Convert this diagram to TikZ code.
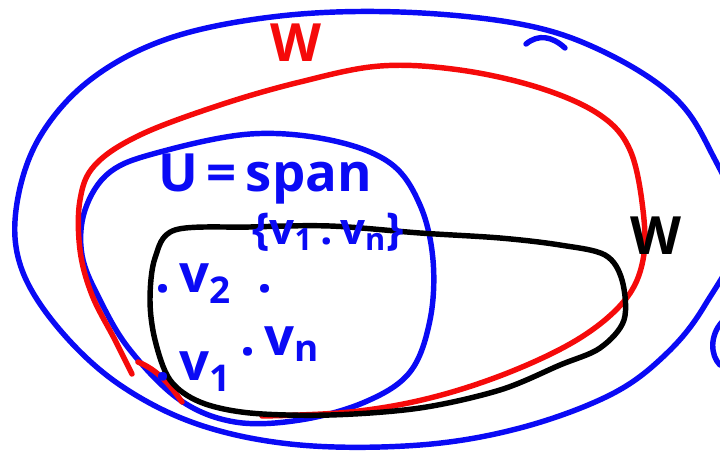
\documentclass[tikz,border=0pt]{standalone}
\usepackage{fontspec}
\setmainfont{Open Sans}
\usepackage{xcolor}
\usepackage{tikz}
\definecolor{penblue}{RGB}{10,10,245}
\definecolor{penred}{RGB}{245,10,10}

\begin{document}
\begin{tikzpicture}[
        x=0.02cm, y=-0.02cm,
        pen/.style={
            line width=3.1pt,
            line cap=round,
            line join=round
        },
        bluepen/.style={pen, draw=penblue},
        redpen/.style={pen, draw=penred},
        blackpen/.style={pen, draw=black},
        handtext/.style={
            inner sep=0pt,
            font=\bfseries\fontsize{30}{32}\selectfont,
            anchor=base west
        }
    ]
        \useasboundingbox (0,0) rectangle (720,456);
        \clip (0,0) rectangle (720,456);

        % outer set
        \draw[bluepen] plot[smooth cycle, tension=0.6] coordinates {
            (710,150) (672,95) (600,50) (520,24) (400,12) (280,16) (170,38)
            (90,80) (38,140) (16,210) (22,270) (60,330) (120,385) (200,425)
            (300,445) (420,445) (520,428) (610,395) (665,355) (705,305) (740,230)};
        \draw[bluepen] (526,44) .. controls (538,34) and (552,36) .. (565,48);
        \draw[bluepen] (722,322) .. controls (710,335) and (710,355) .. (720,365);

        % U
        \draw[bluepen] plot[smooth cycle, tension=0.6] coordinates {
            (160,152) (250,134) (330,140) (390,163) (420,205) (433,260)
            (430,320) (410,372) (365,402) (300,420) (235,422) (180,400)
            (130,350) (100,300) (82,255) (85,210) (110,172)};

        % red W
        \draw[redpen] plot[smooth, tension=0.6] coordinates {
            (132,374) (115,340) (92,295) (80,250) (80,200) (95,165) (140,135)
            (220,105) (300,82) (380,66) (460,70) (540,88) (600,115) (630,150)
            (643,210) (643,260) (625,300) (580,338) (510,372) (430,398)
            (350,412) (262,416)};
        \draw[redpen] (138,362) .. controls (158,370) and (170,385) .. (182,402);

        % black W
        \draw[blackpen] plot[smooth cycle, tension=0.55] coordinates {
            (175,230) (250,227) (330,226) (420,233) (500,238) (560,245)
            (605,255) (622,280) (624,320) (600,348) (560,365) (500,390)
            (420,408) (330,415) (250,413) (200,402) (170,380) (155,340)
            (150,300) (155,258)};

        % labels
        \node[handtext, text=penred] (labelW) at (270,62) {W};
        \node[handtext, text=black] (labelWsub) at (630,254) {W};
        \node[handtext, text=penblue] (labelU) at (158,192) {U\,=\,span};
        \node[handtext, text=penblue, font=\bfseries\fontsize{25}{27}\selectfont] (labelspan) at (252,244) {\{v\textsubscript{1}\,.\,v\textsubscript{n}\}};
        \node[handtext, text=penblue] (labelvtwo) at (155,292) {.\,v\textsubscript{2}\enspace.};
        \node[handtext, text=penblue] (labelvone) at (155,380) {.\,v\textsubscript{1}};
        \node[handtext, text=penblue] (labelvn) at (240,355) {.\,v\textsubscript{n}};
    \end{tikzpicture}
\end{document}
